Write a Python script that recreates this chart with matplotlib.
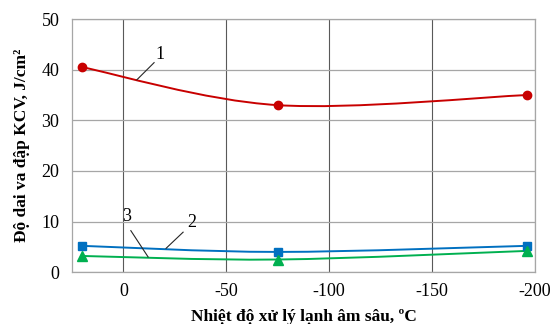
import numpy as np
import matplotlib
matplotlib.use("Agg")
import matplotlib.pyplot as plt
from matplotlib.path import Path
from matplotlib.patches import PathPatch

# Deep-cryogenic treatment temperature (°C) and impact toughness KCV (J/cm²)
temps = [20, -75, -196]
kcv_1 = [40.5, 33.0, 35.0]
kcv_2 = [5.2, 4.0, 5.2]
kcv_3 = [3.2, 2.5, 4.2]

x_ticks = [0, -50, -100, -150, -200]
y_ticks = [0, 10, 20, 30, 40, 50]

plt.rcParams["font.family"] = ["Liberation Serif", "DejaVu Serif"]
plt.rcParams["axes.unicode_minus"] = False

fig = plt.figure(figsize=(5.52, 3.24), dpi=100)
ax = fig.add_axes([0.1304, 0.160, 0.9692 - 0.1304, 0.941 - 0.160])
ax.set_xlim(25, -200)
ax.set_ylim(0, 50)
ax.set_xticks(x_ticks)
ax.set_yticks(y_ticks)
ax.tick_params(length=0, labelsize=13)
ax.tick_params(axis="x", pad=8)
ax.tick_params(axis="y", pad=9)
ax.grid(axis="y", color="#a6a6a6", lw=0.9)
ax.grid(axis="x", color="#595959", lw=0.8)
ax.set_axisbelow(True)
for s in ax.spines.values():
    s.set_color("#a6a6a6")
    s.set_linewidth(0.9)


def smooth_path(xs, ys):
    """Catmull-Rom style cubic Bezier through the points."""
    p = np.column_stack([xs, ys]).astype(float)
    ext = np.vstack([p[0], p, p[-1]])
    verts = [tuple(p[0])]
    codes = [Path.MOVETO]
    for i in range(len(p) - 1):
        p0, p1, p2, p3 = ext[i], ext[i + 1], ext[i + 2], ext[i + 3]
        c1 = p1 + (p2 - p0) / 6.0
        c2 = p2 - (p3 - p1) / 6.0
        verts += [tuple(c1), tuple(c2), tuple(p2)]
        codes += [Path.CURVE4] * 3
    return Path(verts, codes)


series = [
    (kcv_1, "#c80000", "o", 6),
    (kcv_2, "#0070c0", "s", 6),
    (kcv_3, "#00b050", "^", 6.5),
]
for ys, color, marker, ms in series:
    ax.add_patch(PathPatch(smooth_path(temps, ys), fill=False,
                           edgecolor=color, lw=1.4, zorder=3))
    ax.plot(temps, ys, ls="none", marker=marker, ms=ms, color=color, zorder=4)

# Curve labels with leader lines
labels = [
    ("1", (-17.8, 43.0), (-14.9, 41.4), (-6.5, 38.0)),
    ("2", (-33.2, 9.8), (-29.0, 7.9), (-20.7, 4.7)),
    ("3", (-1.7, 11.0), (-3.6, 8.2), (-12.0, 3.0)),
]
for txt, tpos, a, b in labels:
    ax.text(*tpos, txt, ha="center", va="center", fontsize=13, zorder=5)
    ax.plot([a[0], b[0]], [a[1], b[1]], color="#262626", lw=0.8, zorder=5)

ax.set_xlabel("Nhiệt độ xử lý lạnh âm sâu, ºC", fontsize=12.5,
              fontweight="bold", labelpad=6)
ax.set_ylabel("Độ dai va đập KCV, J/cm²", fontsize=12.5,
              fontweight="bold", labelpad=8)

fig.savefig("out.png", dpi=100)
